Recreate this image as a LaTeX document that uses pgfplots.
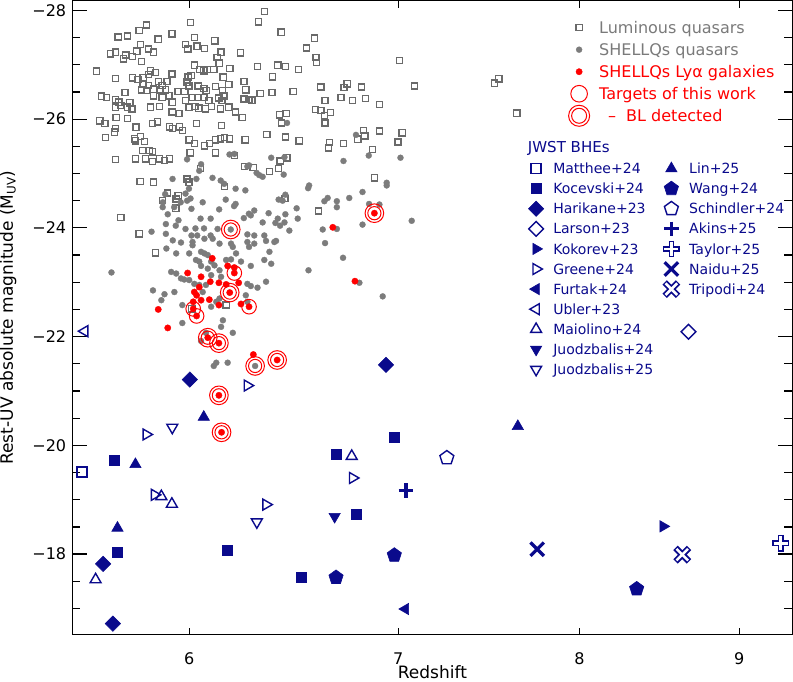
\documentclass[border=0pt]{standalone}
\usepackage{fontspec}
\setmainfont{DejaVu Sans}
\usepackage{pgfplots}
\pgfplotsset{compat=1.18}

\definecolor{jwst}{HTML}{0A0A8C}
\definecolor{qsq}{HTML}{6A6A6A}
\definecolor{qdot}{HTML}{7C7C7C}
\definecolor{qtxt}{HTML}{7A7A7A}

\pgfplotsset{
  sq/.style={only marks, mark=square, mark size=3.1pt, qsq, line width=1.4pt},
  gd/.style={only marks, mark=*, mark size=3.0pt, qdot, line width=0.3pt},
  rd/.style={only marks, mark=*, mark size=3.2pt, red, line width=0.3pt},
  % JWST samples
  mat/.style={jwst, only marks, mark=square, mark size=5pt, line width=1.4pt},
  koc/.style={jwst, only marks, mark=square*, mark size=5pt, line width=0.6pt},
  har/.style={jwst, only marks, mark=square*, mark size=5.4pt, line width=0.6pt, mark options={rotate=45}},
  lar/.style={jwst, only marks, mark=square, mark size=5.2pt, line width=1.4pt, mark options={rotate=45}},
  kok/.style={jwst, only marks, mark=triangle*, mark size=6.5pt, line width=0.6pt, mark options={rotate=-90}},
  gre/.style={jwst, only marks, mark=triangle, mark size=6.3pt, line width=1.4pt, mark options={rotate=-90}},
  fur/.style={jwst, only marks, mark=triangle*, mark size=6.5pt, line width=0.6pt, mark options={rotate=90}},
  ubl/.style={jwst, only marks, mark=triangle, mark size=6.3pt, line width=1.4pt, mark options={rotate=90}},
  mai/.style={jwst, only marks, mark=triangle, mark size=6.3pt, line width=1.4pt},
  juA/.style={jwst, only marks, mark=triangle*, mark size=6.5pt, line width=0.6pt, mark options={rotate=180}},
  juB/.style={jwst, only marks, mark=triangle, mark size=6.3pt, line width=1.4pt, mark options={rotate=180}},
  lin/.style={jwst, only marks, mark=triangle*, mark size=6.5pt, line width=0.6pt},
  wan/.style={jwst, only marks, mark=pentagon*, mark size=7.5pt, line width=0.6pt},
  sch/.style={jwst, only marks, mark=pentagon, mark size=7.3pt, line width=1.4pt},
  aki/.style={jwst, only marks, mark=+, mark size=7.2pt, line width=3.2pt},
  tayA/.style={jwst, only marks, mark=+, mark size=8.3pt, line width=5.6pt},
  tayB/.style={white, only marks, mark=+, mark size=7pt, line width=2.8pt},
  nai/.style={jwst, only marks, mark=x, mark size=9.5pt, line width=3.3pt},
  triA/.style={jwst, only marks, mark=x, mark size=9.5pt, line width=6.2pt},
  triB/.style={white, only marks, mark=x, mark size=8.2pt, line width=2.6pt},
  tay legend/.style={legend image code/.code={%
    \pgfscope\pgftransformshift{\pgfqpoint{0.3cm}{0pt}}%
    \pgfsetstrokecolor{jwst}\pgfsetlinewidth{5.6pt}\pgfsetplotmarksize{8.3pt}\pgfuseplotmark{+}%
    \pgfsetstrokecolor{white}\pgfsetlinewidth{2.8pt}\pgfsetplotmarksize{7pt}\pgfuseplotmark{+}%
    \endpgfscope}},
  tri legend/.style={legend image code/.code={%
    \pgfscope\pgftransformshift{\pgfqpoint{0.3cm}{0pt}}%
    \pgfsetstrokecolor{jwst}\pgfsetlinewidth{6.2pt}\pgfsetplotmarksize{9.5pt}\pgfuseplotmark{x}%
    \pgfsetstrokecolor{white}\pgfsetlinewidth{2.6pt}\pgfsetplotmarksize{8.2pt}\pgfuseplotmark{x}%
    \endpgfscope}},
  ring legend/.style={legend image code/.code={%
    \pgfscope\pgftransformshift{\pgfqpoint{0.3cm}{0pt}}%
    \pgfsetstrokecolor{red}\pgfsetlinewidth{1pt}%
    \pgfsetplotmarksize{10.5pt}\pgfuseplotmark{o}%
    \pgfsetplotmarksize{7.5pt}\pgfuseplotmark{o}%
    \endpgfscope}},
}

\begin{document}
\begin{tikzpicture}
\begin{axis}[
  scale only axis, width=719pt, height=633pt,
  xmode=log, xmin=5.505, xmax=9.36,
  ymin=-28.18, ymax=-16.52, y dir=reverse,
  axis line style={line width=1.2pt},
  tick style={black, line width=1.2pt},
  tick align=inside,
  major tick length=15pt, minor tick length=8pt,
  xtick=\empty,
  extra x ticks={6,7,8,9}, extra x tick labels={6,7,8,9},
  extra x tick style={major tick length=7pt},
  ytick={-28,-26,-24,-22,-20,-18},
  yticklabels={−28,−26,−24,−22,−20,−18},
  minor ytick={-27.5,-27,-26.5,-25.5,-25,-24.5,-23.5,-23,-22.5,-21.5,-21,-20.5,-19.5,-19,-18.5,-17.5,-17},
  tick label style={font=\fontsize{16}{19}\selectfont},
  xticklabel style={inner sep=0pt, yshift=-18pt},
  yticklabel style={inner sep=0pt, xshift=-6pt},
  xlabel={Redshift},
  ylabel={Rest-UV absolute magnitude (M\textsubscript{UV})},
  label style={font=\fontsize{17}{20}\selectfont},
  xlabel style={at={(axis description cs:0.5,0)}, anchor=base, yshift=-44pt, inner xsep=0pt, inner ysep=2.5pt},
  ylabel style={at={(axis description cs:-0.089,0.5)}, anchor=center, inner sep=0pt},
  clip=false,
  legend columns=2, legend cell align=left,
  legend style={draw=none, fill=none, at={(axis description cs:0.6334,0.7509)},
    anchor=north west, inner sep=0pt, outer sep=0pt, row sep=0pt, column sep=9.5pt,
    font=\fontsize{14}{17}\selectfont,
    nodes={inner sep=0pt, text height=15.13pt, text depth=4.93pt, text=jwst}},
]
% luminous quasars
\addplot[sq, forget plot] coordinates {
(6.006,-27.78) (5.814,-27.73) (5.783,-27.63) (5.694,-27.51) (5.734,-27.53) (5.925,-27.57)
(5.865,-27.47) (6.023,-27.50) (6.114,-27.44) (5.789,-27.37) (5.984,-27.37) (5.994,-27.29)
(6.035,-27.34) (6.069,-27.30) (5.822,-27.29) (5.662,-27.20) (5.683,-27.23) (5.726,-27.18)
(5.716,-27.11) (5.755,-27.15) (5.773,-27.25) (5.845,-27.23) (6.143,-27.23) (6.231,-27.22)
(6.125,-27.13) (5.793,-27.06) (6.134,-27.03) (6.023,-26.99) (5.604,-26.88) (5.683,-26.75)
(5.754,-26.76) (5.777,-26.73) (5.800,-26.76) (5.823,-26.82) (5.832,-26.89) (5.853,-26.86)
(5.925,-26.83) (5.800,-26.64) (5.823,-26.62) (5.866,-26.69) (5.903,-26.69) (5.882,-26.62)
(5.996,-26.77) (6.009,-26.80) (5.991,-26.68) (6.046,-26.91) (6.065,-26.89) (6.080,-26.91)
(6.110,-26.91) (6.183,-26.93) (6.152,-26.77) (6.178,-26.64) (6.248,-26.69) (6.256,-26.54)
(5.723,-26.49) (5.792,-26.54) (5.814,-26.53) (5.845,-26.55) (5.874,-26.54) (5.896,-26.54)
(5.951,-26.51) (5.981,-26.51) (5.999,-26.61) (6.040,-26.61) (6.076,-26.53) (6.065,-26.56)
(6.117,-26.60) (6.150,-26.53) (6.133,-26.39) (5.625,-26.42) (5.645,-26.40) (5.683,-26.36)
(5.697,-26.31) (5.743,-26.30) (5.845,-26.43) (5.882,-26.40) (5.911,-26.43) (5.926,-26.31)
(5.984,-26.34) (6.013,-26.40) (6.040,-26.40) (6.065,-26.40) (6.088,-26.34) (6.147,-26.34)
(6.155,-26.43) (6.248,-26.37) (6.270,-26.36) (5.683,-26.22) (5.705,-26.25) (5.733,-26.22)
(5.752,-26.19) (5.832,-26.22) (5.870,-26.23) (5.926,-26.13) (5.955,-26.10) (5.999,-26.22)
(6.025,-26.23) (6.043,-26.20) (6.073,-26.19) (6.100,-26.23) (6.140,-26.19) (6.178,-26.22)
(6.208,-26.13) (6.239,-26.03)
(6.342,-27.98) (6.314,-27.79) (6.421,-27.60) (6.581,-27.49) (6.542,-27.31) (6.588,-27.13)
(6.591,-27.04) (7.006,-27.08) (6.310,-26.97) (6.405,-26.99) (6.441,-26.97) (6.503,-26.91)
(6.381,-26.78) (7.084,-26.61) (6.611,-26.59) (6.741,-26.65) (6.726,-26.58) (6.812,-26.59)
(6.323,-26.47) (6.378,-26.49) (6.478,-26.51) (6.284,-26.35) (6.632,-26.34) (6.711,-26.40)
(6.768,-26.34) (6.833,-26.38) (6.904,-26.27) (6.413,-26.08) (6.445,-26.10) (6.585,-26.18)
(6.613,-26.16) (6.659,-26.12) (6.629,-26.07) (7.515,-26.66) (7.540,-26.74) (7.640,-26.11)
(6.422,-25.93) (6.632,-25.93) (6.353,-25.72) (6.441,-25.67) (6.507,-25.60) (6.654,-25.57)
(6.649,-25.47) (6.723,-25.55) (6.823,-25.79) (6.794,-25.63) (6.830,-25.69) (6.903,-25.78)
(7.020,-25.75) (6.998,-25.58) (6.868,-25.44) (6.449,-25.29) (6.417,-25.23) (6.409,-25.09)
(6.290,-25.11) (6.366,-25.04) (6.878,-24.92) (6.439,-24.54) (6.601,-24.31)
(5.617,-25.97) (5.638,-25.92) (5.840,-25.92) (5.862,-25.95) (5.914,-25.86) (5.927,-25.83)
(5.957,-25.86) (5.970,-25.79) (5.683,-25.83) (5.642,-25.66) (5.763,-25.64) (5.767,-25.60)
(5.789,-25.68) (5.806,-25.59) (6.032,-25.92) (6.145,-25.88) (6.000,-25.62) (6.023,-25.55)
(6.068,-25.51) (6.090,-25.55) (6.118,-25.62) (6.140,-25.64) (6.158,-25.66) (6.181,-25.64)
(6.253,-25.62) (5.797,-25.42) (5.827,-25.42) (5.840,-25.40) (6.005,-25.38) (6.118,-25.38)
(6.203,-25.33) (5.683,-25.26) (5.767,-25.27) (5.810,-25.27) (5.840,-25.22) (5.871,-25.27)
(5.892,-25.24) (5.914,-25.27) (6.050,-25.09) (6.249,-25.13) (5.787,-24.85) (5.845,-24.84)
(5.991,-24.90) (5.999,-24.84) (6.158,-24.76) (5.905,-24.64) (5.884,-24.50) (5.952,-24.59)
(5.943,-24.53) (5.941,-24.36) (5.705,-24.19) (5.783,-23.89) (5.853,-23.54) (6.166,-22.58)
(6.012,-22.51) (5.686,-26.03) (5.733,-26.01) (5.770,-25.85) (5.679,-25.76)
};
% SHELLQs quasars
\addplot[gd, forget plot] coordinates {
(6.449,-25.93) (6.785,-25.71) (6.374,-25.29) (6.849,-25.33) (7.012,-25.29) (6.723,-25.23)
(6.271,-25.15) (6.306,-25.01) (6.318,-24.97) (6.334,-24.94) (6.433,-24.98) (6.941,-24.83)
(6.941,-24.78) (6.555,-24.78) (6.550,-24.73) (6.818,-24.66) (6.441,-24.61) (6.409,-24.52)
(6.428,-24.50) (6.645,-24.55) (6.629,-24.49) (6.690,-24.49) (6.690,-24.38) (6.752,-24.55)
(6.851,-24.44) (6.903,-24.43) (6.495,-24.36) (6.295,-24.32) (6.279,-24.23) (6.362,-24.27)
(6.405,-24.17) (6.394,-24.09) (6.416,-24.04) (6.500,-24.17) (6.818,-24.06) (7.070,-24.13)
(6.621,-23.97) (6.690,-23.98) (6.295,-23.86) (6.342,-23.86) (6.632,-23.72) (6.721,-23.45)
(6.552,-23.22) (6.802,-22.99) (6.920,-22.74) (6.460,-23.95) (6.441,-24.25) (6.334,-24.10)
(6.263,-23.88) (6.350,-23.76) (6.397,-23.76) (6.437,-24.10)
(5.991,-25.26) (5.927,-24.90) (6.032,-24.90) (6.104,-24.92) (6.141,-24.87) (6.157,-24.81)
(6.209,-24.72) (6.254,-24.69) (5.999,-24.72) (5.984,-24.63) (6.164,-24.52) (6.006,-24.54)
(5.991,-24.50) (6.209,-24.44) (6.202,-24.40) (5.884,-24.38) (5.934,-24.38) (6.010,-24.35)
(6.134,-24.34) (6.247,-24.18) (6.270,-24.26) (6.051,-24.17) (6.096,-24.17) (5.898,-24.07)
(5.953,-24.14) (5.941,-24.04) (5.984,-23.98) (6.028,-23.99) (6.066,-23.99) (6.127,-23.98)
(5.836,-23.93) (5.898,-23.89) (6.010,-23.86) (6.036,-23.86) (6.096,-23.86)
(6.045,-25.05) (6.053,-25.17) (6.181,-25.35) (6.203,-25.36) (6.263,-25.13) (6.437,-25.30)
(5.895,-24.62) (5.885,-24.47) (5.906,-24.25) (5.963,-24.47) (6.060,-24.47)
(5.928,-23.77) (5.964,-23.73) (6.015,-23.74) (6.015,-23.68) (6.068,-23.80) (6.105,-23.80)
(6.136,-23.71) (6.188,-23.71) (6.196,-23.65) (6.263,-23.74) (6.271,-23.65) (6.295,-23.71)
(6.389,-23.74) (5.900,-23.62) (5.943,-23.53) (6.000,-23.53) (6.053,-23.56) (6.068,-23.53)
(6.083,-23.50) (6.030,-23.41) (6.045,-23.38) (6.053,-23.30) (6.098,-23.38) (6.113,-23.31)
(6.083,-23.25) (6.166,-23.41) (6.188,-23.42) (6.211,-23.53) (6.234,-23.38) (6.279,-23.30)
(6.342,-23.41) (6.374,-23.34) (6.366,-23.56) (5.921,-23.19) (5.943,-23.16) (5.964,-23.07)
(5.978,-23.05) (6.000,-23.04) (6.023,-22.97) (6.045,-22.95) (6.075,-22.95) (6.136,-23.22)
(6.143,-23.10) (6.098,-23.13) (6.263,-22.97) (6.279,-22.93) (6.350,-23.01) (6.310,-22.90)
(5.842,-22.85) (5.892,-22.78) (5.935,-22.82) (6.060,-22.82) (6.136,-22.70) (6.121,-22.64)
(6.098,-22.55) (5.970,-22.58) (5.878,-22.67) (6.256,-22.76) (6.263,-22.64) (5.970,-22.25)
(6.151,-22.30) (6.143,-22.18) (6.196,-22.07) (5.666,-23.18) (6.110,-21.46) (6.121,-21.52)
(6.173,-21.52) (6.053,-21.92) (6.075,-22.07) (6.299,-21.46) (6.187,-23.97)
};
% SHELLQs Lya galaxies
\addplot[rd, forget plot] coordinates {
(6.103,-23.44) (5.993,-23.17) (6.053,-23.10) (6.173,-23.30) (6.203,-23.27) (6.094,-23.01)
(6.133,-22.99) (6.166,-22.96) (6.223,-22.99) (6.045,-22.91) (6.023,-22.82) (6.033,-22.76)
(6.053,-22.67) (6.090,-22.68) (6.018,-22.64) (6.133,-22.58) (6.234,-22.60) (5.865,-22.50)
(5.906,-22.16) (6.291,-21.67) (6.670,-24.01) (6.780,-23.02)
(6.203,-23.17) (6.182,-22.81) (6.271,-22.55) (6.018,-22.51) (6.033,-22.38) (6.083,-21.98)
(6.133,-21.88) (6.402,-21.57) (6.133,-20.92) (6.145,-20.24) (6.878,-24.27)
};
% targets of this work
\addplot[only marks, mark=o, mark size=7.3pt, red, line width=1pt, forget plot] coordinates {
(6.203,-23.17) (6.271,-22.55) (6.018,-22.51) (6.033,-22.38)
};
% broad line detected
\addplot[only marks, mark=o, mark size=9.3pt, red, line width=1pt, forget plot] coordinates {
(6.182,-22.81) (6.083,-21.98) (6.133,-21.88) (6.402,-21.57) (6.133,-20.92) (6.145,-20.24)
(6.878,-24.27) (6.187,-23.97) (6.299,-21.46)
};
\addplot[only marks, mark=o, mark size=6.6pt, red, line width=1pt, forget plot] coordinates {
(6.182,-22.81) (6.083,-21.98) (6.133,-21.88) (6.402,-21.57) (6.133,-20.92) (6.145,-20.24)
(6.878,-24.27) (6.187,-23.97) (6.299,-21.46)
};
% JWST broad-line AGN
\addplot[mat, forget plot] coordinates {(5.545,-19.51)};
\addplot[koc, forget plot] coordinates {(5.679,-19.72) (5.689,-18.04) (6.173,-18.07) (6.519,-17.57) (6.689,-19.84) (6.785,-18.74) (6.980,-20.14)};
\addplot[har, forget plot] coordinates {(6.003,-21.21) (5.631,-17.82) (5.672,-16.72) (6.937,-21.48)};
\addplot[lar, forget plot] coordinates {(8.67,-22.09)};
\addplot[kok, forget plot] coordinates {(8.51,-18.51)};
\addplot[gre, forget plot] coordinates {(5.813,-20.20) (5.849,-19.09) (6.263,-21.10) (6.350,-18.91) (6.769,-19.40)};
\addplot[fur, forget plot] coordinates {(7.037,-16.99)};
\addplot[ubl, forget plot] coordinates {(5.555,-22.10)};
\addplot[mai, forget plot] coordinates {(5.600,-17.53) (5.878,-19.06) (5.924,-18.92) (6.764,-19.80)};
\addplot[juA, forget plot] coordinates {(6.679,-18.69)};
\addplot[juB, forget plot] coordinates {(5.926,-20.33) (6.307,-18.59)};
\addplot[lin, forget plot] coordinates {(6.065,-20.52) (5.767,-19.65) (5.691,-18.48) (7.646,-20.35)};
\addplot[wan, forget plot] coordinates {(6.686,-17.57) (6.980,-17.98) (8.345,-17.36)};
\addplot[sch, forget plot] coordinates {(7.256,-19.77)};
\addplot[aki, forget plot] coordinates {(7.040,-19.17)};
\addplot[tayA, forget plot] coordinates {(9.28,-18.20)};
\addplot[tayB, forget plot] coordinates {(9.28,-18.20)};
\addplot[nai, forget plot] coordinates {(7.755,-18.09)};
\addplot[triA, forget plot] coordinates {(8.63,-17.99)};
\addplot[triB, forget plot] coordinates {(8.63,-17.99)};

\addlegendimage{mat}\addlegendentry{Matthee+24}
\addlegendimage{lin}\addlegendentry{Lin+25}
\addlegendimage{koc}\addlegendentry{Kocevski+24}
\addlegendimage{wan}\addlegendentry{Wang+24}
\addlegendimage{har}\addlegendentry{Harikane+23}
\addlegendimage{sch}\addlegendentry{Schindler+24}
\addlegendimage{lar}\addlegendentry{Larson+23}
\addlegendimage{aki}\addlegendentry{Akins+25}
\addlegendimage{kok}\addlegendentry{Kokorev+23}
\addlegendimage{tay legend}\addlegendentry{Taylor+25}
\addlegendimage{gre}\addlegendentry{Greene+24}
\addlegendimage{nai}\addlegendentry{Naidu+25}
\addlegendimage{fur}\addlegendentry{Furtak+24}
\addlegendimage{tri legend}\addlegendentry{Tripodi+24}
\addlegendimage{ubl}\addlegendentry{Ubler+23}
\addlegendimage{empty legend}\addlegendentry{}
\addlegendimage{mai}\addlegendentry{Maiolino+24}
\addlegendimage{empty legend}\addlegendentry{}
\addlegendimage{juA}\addlegendentry{Juodzbalis+24}
\addlegendimage{empty legend}\addlegendentry{}
\addlegendimage{juB}\addlegendentry{Juodzbalis+25}

\node[anchor=base west, inner sep=0pt, font=\fontsize{15}{18}\selectfont, text=jwst]
  at (axis description cs:0.6324,0.7611) {JWST BHEs};
\end{axis}

\begin{axis}[
  scale only axis, width=719pt, height=633pt, hide axis,
  xmin=0, xmax=1, ymin=0, ymax=1,
  legend cell align=left,
  legend style={draw=none, fill=none, at={(axis description cs:0.6892,0.9747)},
    anchor=north west, inner sep=0pt, outer sep=0pt, row sep=0pt, column sep=9.5pt,
    font=\fontsize{16}{19}\selectfont,
    nodes={inner sep=0pt, text height=16.85pt, text depth=5.15pt}},
]
\addlegendimage{sq}\addlegendentry{\textcolor{qtxt}{Luminous quasars}}
\addlegendimage{gd}\addlegendentry{\textcolor{qtxt}{SHELLQs quasars}}
\addlegendimage{rd}\addlegendentry{\textcolor{red}{SHELLQs Lyα galaxies}}
\addlegendimage{only marks, mark=o, mark size=8.3pt, red, line width=1pt}\addlegendentry{\textcolor{red}{Targets of this work}}
\addlegendimage{ring legend}\addlegendentry{\textcolor{red}{\hspace*{9pt}–\hspace{10pt}BL detected}}
\end{axis}
\end{tikzpicture}
\end{document}
